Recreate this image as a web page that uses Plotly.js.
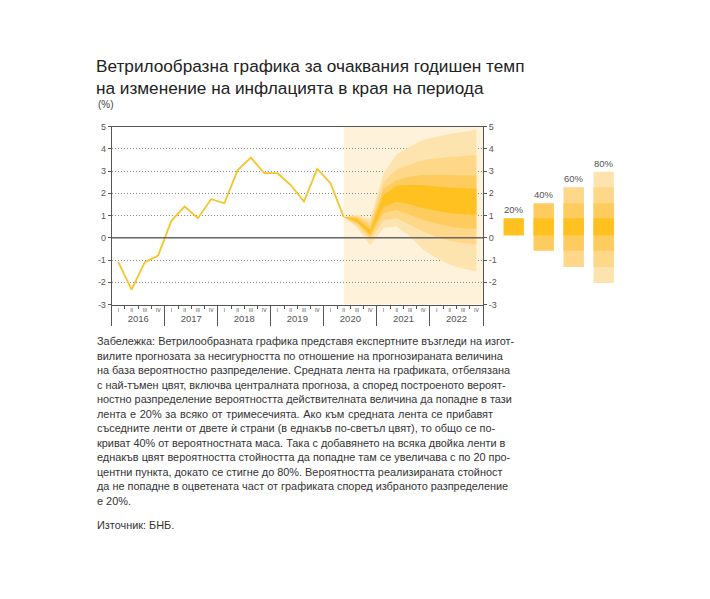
<!DOCTYPE html>
<html lang="bg">
<head>
<meta charset="utf-8">
<script src="https://cdn.plot.ly/plotly-3.0.1.min.js"></script>
<style>
html,body{margin:0;padding:0;background:#fff;overflow:hidden;}
#chart{position:absolute;left:0;top:0;width:710px;height:599px;}
#note{position:absolute;left:97px;top:334px;width:396px;font-family:"Liberation Sans",Arial,sans-serif;font-size:10.9px;line-height:14.5px;color:#333;}
#note div{text-align:justify;text-align-last:justify;white-space:nowrap;}
#note div.last{text-align-last:left;}
#note div.src{margin-top:10px;text-align-last:left;}
</style>
</head>
<body>
<div id="chart"></div>
<div id="note"></div>
<script>
// ---------- DATA ----------
const years = [2016, 2017, 2018, 2019, 2020, 2021, 2022];
const romanQ = ['I', 'II', 'III', 'IV'];
const yTicks = [-3, -2, -1, 0, 1, 2, 3, 4, 5];

// historical annual inflation, end of quarter (%), 2016Q1 .. 2020Q2
const histQuarters = ['2016Q1','2016Q2','2016Q3','2016Q4','2017Q1','2017Q2','2017Q3','2017Q4',
  '2018Q1','2018Q2','2018Q3','2018Q4','2019Q1','2019Q2','2019Q3','2019Q4','2020Q1','2020Q2'];
const histValues = [-1.1, -2.33, -1.1, -0.8, 0.76, 1.4, 0.88, 1.73, 1.55, 3.04, 3.6, 2.9, 2.9, 2.37, 1.63, 3.09, 2.45, 0.93];

// fan chart bands, 2020Q2 .. 2022Q4
const fanQuarters = ['2020Q2','2020Q3','2020Q4','2021Q1','2021Q2','2021Q3','2021Q4','2022Q1','2022Q2','2022Q3','2022Q4'];
const fanLo80 = [0.93, 0.45, -0.35, 0.45, 0.5, 0.05, -0.54, -0.91, -1.21, -1.39, -1.51];
const fanLo60 = [0.93, 0.55, -0.1, 0.8, 0.88, 0.58, 0.28, 0.03, -0.13, -0.24, -0.31];
const fanLo40 = [0.93, 0.65, 0.05, 1.1, 1.25, 1.02, 0.8, 0.63, 0.5, 0.43, 0.4];
const fanLo20 = [0.93, 0.72, 0.15, 1.38, 1.62, 1.5, 1.33, 1.21, 1.1, 1.06, 1.03];
const fanHi20 = [0.93, 0.85, 0.35, 1.93, 2.35, 2.38, 2.36, 2.3, 2.26, 2.23, 2.2];
const fanHi40 = [0.93, 0.92, 0.5, 2.2, 2.6, 2.75, 2.83, 2.83, 2.82, 2.8, 2.8];
const fanHi60 = [0.93, 0.98, 0.7, 2.5, 3.08, 3.3, 3.5, 3.57, 3.62, 3.67, 3.72];
const fanHi80 = [0.93, 1.05, 0.85, 2.9, 3.75, 4.1, 4.4, 4.55, 4.67, 4.75, 4.85];

// legend (probability bands)
const legendLabels = ['20%', '40%', '60%', '80%'];
const legendLo = [0.1, -0.58, -1.31, -2.03];
const legendHi = [0.88, 1.55, 2.27, 2.97];

const titleLines = ['Ветрилообразна графика за очаквания годишен темп', 'на изменение на инфлацията в края на периода'];
const unitLabel = '(%)';
const noteLines = [
  'Забележка: Ветрилообразната графика представя експертните възгледи на изгот-',
  'вилите прогнозата за несигурността по отношение на прогнозираната величина',
  'на база вероятностно разпределение. Средната лента на графиката, отбелязана',
  'с най-тъмен цвят, включва централната прогноза, а според построеното вероят-',
  'ностно разпределение вероятността действителната величина да попадне в тази',
  'лента е 20% за всяко от тримесечията. Ако към средната лента се прибавят',
  'съседните ленти от двете ѝ страни (в еднакъв по-светъл цвят), то общо се по-',
  'криват 40% от вероятностната маса. Така с добавянето на всяка двойка ленти в',
  'еднакъв цвят вероятността стойността да попадне там се увеличава с по 20 про-',
  'центни пункта, докато се стигне до 80%. Вероятността реализираната стойност',
  'да не попадне в оцветената част от графиката според избраното разпределение',
  'е 20%.'
];
const sourceLine = 'Източник: БНБ.';

// ---------- helpers ----------
const qToX = q => { const y = +q.slice(0, 4), n = +q.slice(5); return y + (n - 0.5) / 4; };
const histX = histQuarters.map(qToX);
const fanX = fanQuarters.map(qToX);
const xStart = years[0], xEnd = years[years.length - 1] + 1;
const quarterCenters = [], quarterText = [];
years.forEach(y => romanQ.forEach((r, i) => { quarterCenters.push(y + (i + 0.5) / 4); quarterText.push(r); }));
const yearBounds = years.concat([xEnd]);
const yearCenters = years.map(y => y + 0.5);
const yTickText = yTicks.map(String);

const W = 710, H = 599;
const FONT = '"Liberation Sans", Arial, sans-serif';
const C = {bg: '#FEF3DA', b80: '#FDE4AE', b60: '#FED789', b40: '#FECC5E', b20: '#FEC120', line: '#F6C32A', axis: '#555', tick: '#555'};

// ---------- traces ----------
const traces = [];
const bands = [[fanLo80, fanHi80, C.b80], [fanLo60, fanHi60, C.b60], [fanLo40, fanHi40, C.b40], [fanLo20, fanHi20, C.b20]];
bands.forEach(([lo, hi, col]) => {
  traces.push({x: fanX, y: lo, type: 'scatter', mode: 'lines', line: {width: 0, color: col}, hoverinfo: 'skip', showlegend: false});
  traces.push({x: fanX, y: hi, type: 'scatter', mode: 'lines', line: {width: 0, color: col}, fill: 'tonexty', fillcolor: col, hoverinfo: 'skip', showlegend: false});
});
traces.push({x: histX, y: histValues, type: 'scatter', mode: 'lines', line: {color: C.line, width: 1.8}, showlegend: false});
// dummy traces to activate overlay axes
traces.push({x: [xStart], y: [null], xaxis: 'x3', yaxis: 'y', type: 'scatter', mode: 'markers', showlegend: false, hoverinfo: 'skip'});
traces.push({x: [xStart], y: [null], xaxis: 'x4', yaxis: 'y', type: 'scatter', mode: 'markers', showlegend: false, hoverinfo: 'skip'});
traces.push({x: [xStart], y: [null], xaxis: 'x', yaxis: 'y2', type: 'scatter', mode: 'markers', showlegend: false, hoverinfo: 'skip'});

// legend bars
const bandColors = [C.b20, C.b40, C.b60, C.b80];
for (let j = legendLabels.length - 1; j >= 0; j--) {
  const xs = [], bs = [], hs = [];
  for (let k = j; k < legendLabels.length; k++) { xs.push(k); bs.push(legendLo[j]); hs.push(legendHi[j] - legendLo[j]); }
  traces.push({type: 'bar', x: xs, y: hs, base: bs, width: 0.68, xaxis: 'x2', yaxis: 'y3',
    marker: {color: bandColors[j], line: {width: 0}}, showlegend: false, hoverinfo: 'skip'});
}

// ---------- layout ----------
const yDom = [1 - 304.5 / H, 1 - 126.5 / H];
const annotations = [
  {text: unitLabel, xref: 'paper', yref: 'paper', x: 96 / W, y: 1 - 104.5 / H, xanchor: 'left', yanchor: 'middle', showarrow: false,
    font: {family: FONT, size: 10, color: '#444'}}
];
legendLabels.forEach((t, k) => annotations.push({text: t, xref: 'x2', yref: 'y3', x: k, y: legendHi[k], xanchor: 'center',
  yanchor: 'bottom', yshift: 1, showarrow: false, font: {family: FONT, size: 9.5, color: '#555'}}));

const layout = {
  width: W, height: H,
  margin: {l: 0, r: 0, t: 0, b: 0},
  paper_bgcolor: '#fff', plot_bgcolor: 'rgba(0,0,0,0)',
  font: {family: FONT, color: '#333'},
  barmode: 'overlay',
  title: {text: titleLines.join('<br>'), x: 96 / W, xanchor: 'left', xref: 'paper', yref: 'container', y: 1 - 71.5 / H, yanchor: 'top',
    font: {family: FONT, size: 17.2, color: '#222'}},
  annotations: annotations,
  xaxis: {domain: [111.7 / W, 483 / W], anchor: 'y', range: [xStart, xEnd], showline: true, mirror: true, linecolor: C.axis, linewidth: 1,
    showgrid: false, zeroline: false, tickmode: 'array', tickvals: quarterCenters, ticktext: quarterText, ticks: '',
    tickfont: {family: FONT, size: 5, color: '#444'}, tickangle: 0,
    minor: {tickmode: 'linear', tick0: xStart, dtick: 0.25, ticks: 'outside', ticklen: 3, tickcolor: C.tick, showgrid: false}},
  xaxis3: {overlaying: 'x', anchor: 'y', range: [xStart, xEnd], tickmode: 'array', tickvals: yearBounds, ticks: 'outside', ticklen: 20,
    tickcolor: C.tick, showticklabels: false, showgrid: false, zeroline: false, showline: false},
  xaxis4: {overlaying: 'x', anchor: 'y', range: [xStart, xEnd], tickmode: 'array', tickvals: yearCenters, ticktext: years.map(String),
    ticks: 'outside', ticklen: 5, tickcolor: 'rgba(0,0,0,0)', tickfont: {family: FONT, size: 9.5, color: '#555'},
    showgrid: false, zeroline: false, showline: false, tickangle: 0},
  yaxis: {domain: yDom, anchor: 'x', range: [-3, 5], tickmode: 'array', tickvals: yTicks, ticktext: yTickText, showline: true, linecolor: C.axis,
    ticks: 'outside', ticklen: 3, tickcolor: C.tick, tickfont: {family: FONT, size: 9, color: '#555'},
    showgrid: true, gridcolor: '#8a8a8a', griddash: '1px,2px', gridwidth: 1, zeroline: false},
  yaxis2: {overlaying: 'y', side: 'right', anchor: 'x', range: [-3, 5], tickmode: 'array', tickvals: yTicks, ticktext: yTickText, showline: true,
    linecolor: C.axis, ticks: 'outside', ticklen: 3, tickcolor: C.tick, tickfont: {family: FONT, size: 9, color: '#555'},
    showgrid: false, zeroline: false},
  xaxis2: {domain: [498.7 / W, 618.7 / W], anchor: 'y3', range: [-0.5, 3.5], visible: false},
  yaxis3: {domain: yDom, anchor: 'x2', range: [-3, 5], visible: false},
  shapes: [
    {type: 'rect', xref: 'x', yref: 'y domain', x0: fanX[0], x1: xEnd, y0: 0, y1: 1, fillcolor: C.bg, line: {width: 0}, layer: 'below'},
    {type: 'line', xref: 'x domain', yref: 'y', x0: 0, x1: 1, y0: 0, y1: 0, line: {color: '#666', width: 1.6}, layer: 'above'}
  ]
};

Plotly.newPlot('chart', traces, layout, {displayModeBar: false, staticPlot: true});

// note text
const note = document.getElementById('note');
noteLines.forEach((t, i) => {
  const d = document.createElement('div');
  d.textContent = t;
  if (i === noteLines.length - 1) d.className = 'last';
  note.appendChild(d);
});
const s = document.createElement('div');
s.className = 'src';
s.textContent = sourceLine;
note.appendChild(s);
</script>
</body>
</html>
